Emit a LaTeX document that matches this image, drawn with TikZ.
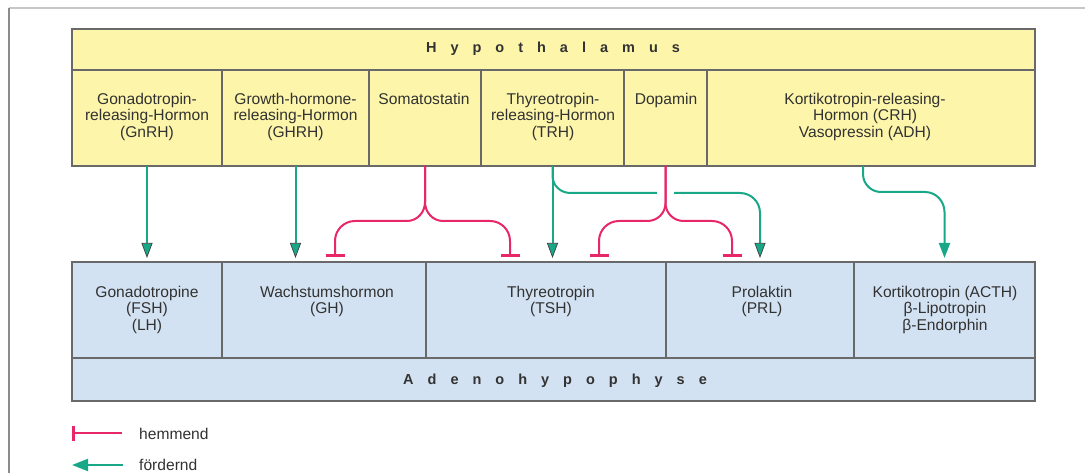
\documentclass[tikz,border=0pt]{standalone}
\usepackage{fontspec}
\setmainfont{Liberation Sans}
\usetikzlibrary{arrows.meta}
\definecolor{hyel}{RGB}{253,246,170}
\definecolor{hblu}{RGB}{211,226,242}
\definecolor{bord}{RGB}{105,105,105}
\definecolor{tgray}{RGB}{50,50,50}
\definecolor{tealc}{RGB}{24,168,136}
\definecolor{pinkc}{RGB}{232,40,102}
\newcommand\lsp{\hspace{14pt}}
\begin{document}
\begin{tikzpicture}[x=1pt,y=1pt,
 cellY/.style={draw=bord, fill=hyel, line width=1.1pt, minimum height=96pt, inner sep=0pt, outer sep=0pt},
 cellB/.style={draw=bord, fill=hblu, line width=1.1pt, minimum height=96pt, inner sep=0pt, outer sep=0pt},
 txt/.style={font=\fontsize{15.6}{16.5}\selectfont, align=center, inner sep=0pt, text=tgray, anchor=north},
 head/.style={font=\fontsize{14.5}{16}\selectfont\bfseries, inner sep=0pt, text=black!80, anchor=base},
 legtxt/.style={font=\fontsize{15.6}{16.5}\selectfont, inner sep=0pt, text=tgray, anchor=base west},
 prom/.style={draw=tealc, line width=2pt, -{Triangle[width=11pt,length=15pt,fill=tealc,color=black!75,line width=0.7pt]}, shorten >=4pt},
 promplain/.style={draw=tealc, line width=2pt, -{Triangle[width=11pt,length=15pt,color=tealc]}, shorten >=4pt},
 hem/.style={draw=pinkc, line width=2pt, -{Bar[width=19pt,line width=2.6pt]}, shorten >=5pt},
]
\useasboundingbox (0,0) rectangle (1085,-473);
% frame
\draw[line width=1.5pt, black!22] (9,-8) -- (1085,-8);
\draw[line width=2pt, black!45] (9,-8) -- (9,-473);

% Hypothalamus
\node[cellY, minimum width=963pt, minimum height=41pt] (hypo) at (553.5,-49.5) {};
\node[head] (hypoT) at (553,-53) {H\lsp y\lsp p\lsp o\lsp t\lsp h\lsp a\lsp l\lsp a\lsp m\lsp u\lsp s};
\node[cellY, minimum width=150pt] (gnrh) at (147,-118) {};
\node[cellY, minimum width=147pt] (ghrh) at (295.5,-118) {};
\node[cellY, minimum width=112pt] (soma) at (425,-118) {};
\node[cellY, minimum width=143pt] (trh) at (552.5,-118) {};
\node[cellY, minimum width=83pt] (dop) at (665.5,-118) {};
\node[cellY, minimum width=328pt] (crh) at (871,-118) {};

\node[txt] (gnrhT) at (147,-92.7) {Gonadotropin-\\releasing-Hormon\\(GnRH)};
\node[txt] (ghrhT) at (295.5,-92.7) {Growth-hormone-\\releasing-Hormon\\(GHRH)};
\node[txt] (somaT) at (424,-92.7) {Somatostatin};
\node[txt] (trhT) at (553,-92.7) {Thyreotropin-\\releasing-Hormon\\(TRH)};
\node[txt] (dopT) at (666,-92.7) {Dopamin};
\node[txt] (crhT) at (865,-92.7) {Kortikotropin-releasing-\\Hormon (CRH)\\Vasopressin (ADH)};

% Adenohypophyse
\node[cellB, minimum width=150pt] (gonado) at (147,-310) {};
\node[cellB, minimum width=204pt] (wachs) at (324,-310) {};
\node[cellB, minimum width=240pt] (tsh) at (546,-310) {};
\node[cellB, minimum width=188pt] (prl) at (760,-310) {};
\node[cellB, minimum width=181pt] (kort) at (944.5,-310) {};
\node[cellB, minimum width=963pt, minimum height=43pt] (adeno) at (553.5,-379.5) {};
\node[head] (adenoT) at (555,-384) {A\lsp d\lsp e\lsp n\lsp o\lsp h\lsp y\lsp p\lsp o\lsp p\lsp h\lsp y\lsp s\lsp e};

\node[txt] (gonadoT) at (147,-285.7) {Gonadotropine\\(FSH)\\(LH)};
\node[txt] (wachsT) at (327,-285.7) {Wachstumshormon\\(GH)};
\node[txt] (tshT) at (551,-285.7) {Thyreotropin\\(TSH)};
\node[txt] (prlT) at (762,-285.7) {Prolaktin\\(PRL)};
\node[txt] (kortT) at (945,-285.7) {Kortikotropin (ACTH)\\β-Lipotropin\\β-Endorphin};

% targets of inhibitory connectors on the box tops
\coordinate (sW) at (335,-262);
\coordinate (sT) at (510,-262);
\coordinate (dT) at (599,-262);
\coordinate (dP) at (732,-262);

% promoting connectors
\draw[prom] (gnrh.south) -- (gonado.north);
\draw[prom] (ghrh.south) -- (ghrh.south |- wachs.north);
\draw[prom] (trh.south) -- (trh.south |- tsh.north);
\draw[prom] (trh.south) -- ++(0,-10) to[out=-90,in=180] ++(18,-17) -- (740,-193) to[out=0,in=90] (760,-213) -- (prl.north);
\draw[promplain] ([xshift=-8pt]crh.south) -- ++(0,-8) to[out=-90,in=180] ++(18,-18) -- (925,-192) to[out=0,in=90] (944.5,-212) -- (kort.north);

% gap where Dopamin crosses
\fill[white] (657,-187) rectangle (674,-199);

% inhibiting connectors
\draw[hem] (soma.south) -- ++(0,-36) to[out=-90,in=0] ++(-18,-19) -- (355,-221) to[out=180,in=90] (335,-241) -- (sW);
\draw[hem] (soma.south) -- ++(0,-36) to[out=-90,in=180] ++(18,-19) -- (490,-221) to[out=0,in=90] (510,-241) -- (sT);
\draw[hem] (dop.south) -- ++(0,-37) to[out=-90,in=0] ++(-18,-18) -- (619,-221) to[out=180,in=90] (599,-241) -- (dT);
\draw[hem] (dop.south) -- ++(0,-37) to[out=-90,in=180] ++(18,-18) -- (712,-221) to[out=0,in=90] (732,-241) -- (dP);

% legend
\node[legtxt] (hemT) at (139,-439) {hemmend};
\node[legtxt] (foeT) at (139,-470) {fördernd};
\coordinate (h1) at (72,-433);
\coordinate (h2) at (122,-433);
\coordinate (f1) at (72,-465);
\coordinate (f2) at (123,-465);
\draw[draw=pinkc, line width=2pt, -{Bar[width=15pt,line width=2.5pt]}] (h2) -- (h1);
\draw[draw=tealc, line width=2pt, -{Triangle[width=12pt,length=16pt,color=tealc]}] (f2) -- (f1);
\end{tikzpicture}
\end{document}
